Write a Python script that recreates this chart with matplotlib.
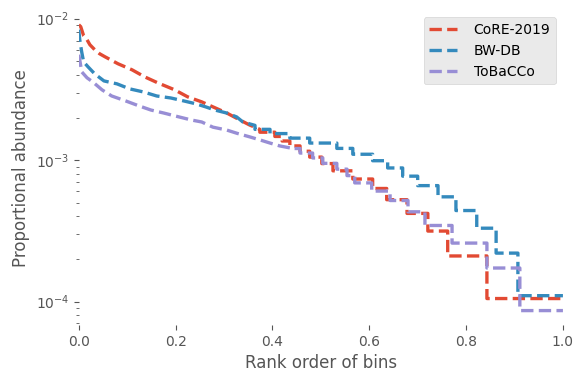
import matplotlib
matplotlib.use("Agg")
import matplotlib.pyplot as plt

# Rank-abundance curves. The head of each curve (many bins with large counts)
# is a dense run of points; the tail is a staircase given as the rank fraction
# where each level starts and the proportional abundance of that level.
core_head_x = [0.0, 0.004, 0.010, 0.017, 0.023, 0.033, 0.043, 0.054, 0.081,
               0.110, 0.136, 0.163, 0.198, 0.225, 0.254, 0.277, 0.306, 0.333,
               0.353, 0.374]
core_head_y = [9.06e-3, 8.78e-3, 7.58e-3, 7.10e-3, 6.54e-3, 6.03e-3, 5.65e-3,
               5.38e-3, 4.80e-3, 4.35e-3, 3.88e-3, 3.52e-3, 3.14e-3, 2.80e-3,
               2.58e-3, 2.38e-3, 2.15e-3, 1.92e-3, 1.77e-3, 1.65e-3]
core_step_x = [0.374, 0.405, 0.420, 0.436, 0.457, 0.477, 0.502, 0.525, 0.566,
               0.607, 0.636, 0.678, 0.721, 0.762, 0.843]
core_step_y = [1.575e-3, 1.47e-3, 1.365e-3, 1.26e-3, 1.155e-3, 1.05e-3, 9.45e-4,
               8.4e-4, 7.35e-4, 6.3e-4, 5.25e-4, 4.2e-4, 3.15e-4, 2.1e-4, 1.05e-4]

bwdb_head_x = [0.0, 0.002, 0.006, 0.010, 0.019, 0.033, 0.052, 0.079, 0.105,
               0.134, 0.161, 0.190, 0.217, 0.242, 0.262, 0.281, 0.306, 0.326,
               0.339, 0.364]
bwdb_head_y = [8.36e-3, 7.10e-3, 5.83e-3, 4.95e-3, 4.57e-3, 4.07e-3, 3.63e-3,
               3.46e-3, 3.19e-3, 3.03e-3, 2.84e-3, 2.75e-3, 2.62e-3, 2.50e-3,
               2.38e-3, 2.26e-3, 2.15e-3, 2.02e-3, 1.86e-3, 1.76e-3]
bwdb_step_x = [0.364, 0.395, 0.436, 0.477, 0.533, 0.566, 0.607, 0.638, 0.669,
               0.700, 0.742, 0.779, 0.822, 0.862, 0.907]
bwdb_step_y = [1.65e-3, 1.54e-3, 1.43e-3, 1.32e-3, 1.21e-3, 1.10e-3, 9.9e-4,
               8.8e-4, 7.7e-4, 6.6e-4, 5.5e-4, 4.4e-4, 3.3e-4, 2.2e-4, 1.1e-4]

tobacco_head_x = [0.0, 0.002, 0.006, 0.017, 0.029, 0.048, 0.068, 0.097, 0.124,
                  0.149, 0.176, 0.207, 0.233, 0.254, 0.277, 0.306, 0.326, 0.353,
                  0.374, 0.395, 0.415, 0.436]
tobacco_head_y = [5.56e-3, 5.12e-3, 4.21e-3, 3.82e-3, 3.57e-3, 3.14e-3, 2.84e-3,
                  2.62e-3, 2.42e-3, 2.26e-3, 2.15e-3, 2.02e-3, 1.92e-3, 1.86e-3,
                  1.71e-3, 1.63e-3, 1.55e-3, 1.46e-3, 1.39e-3, 1.32e-3, 1.26e-3,
                  1.22e-3]
tobacco_step_x = [0.436, 0.457, 0.483, 0.504, 0.533, 0.554, 0.570, 0.605, 0.643,
                  0.680, 0.715, 0.771, 0.843, 0.911]
tobacco_step_y = [1.208e-3, 1.122e-3, 1.036e-3, 9.49e-4, 8.63e-4, 7.77e-4,
                  6.9e-4, 6.04e-4, 5.18e-4, 4.31e-4, 3.45e-4, 2.59e-4, 1.726e-4,
                  8.63e-5]

labels = ["CoRE-2019", "BW-DB", "ToBaCCo"]
colors = ["#E24A33", "#348ABD", "#988ED5"]


def curve(head_x, head_y, step_x, step_y):
    """Join the dense head with the staircase tail into one path."""
    xs, ys = list(head_x), list(head_y)
    for i, (sx, sy) in enumerate(zip(step_x, step_y)):
        xs.append(sx)
        ys.append(sy)
        end = step_x[i + 1] if i + 1 < len(step_x) else 1.0
        xs.append(end)
        ys.append(sy)
    return xs, ys


series = [
    curve(core_head_x, core_head_y, core_step_x, core_step_y),
    curve(bwdb_head_x, bwdb_head_y, bwdb_step_x, bwdb_step_y),
    curve(tobacco_head_x, tobacco_head_y, tobacco_step_x, tobacco_step_y),
]

plt.style.use("ggplot")
fig, ax = plt.subplots(figsize=(5.75, 3.73), dpi=100)
fig.subplots_adjust(left=0.137, right=0.979, top=0.972, bottom=0.129)
ax.set_facecolor("white")
ax.grid(False)
for s in ax.spines.values():
    s.set_visible(False)

for (xs, ys), lab, col in zip(series, labels, colors):
    ax.plot(xs, ys, linestyle="--", linewidth=2.4, color=col, label=lab)

ax.set_yscale("log")
ax.set_xlim(0, 1)
ax.set_xlabel("Rank order of bins", color="#555555")
ax.set_ylabel("Proportional abundance", color="#555555")
ax.tick_params(which="both", colors="#555555")

leg = ax.legend(loc="upper right", facecolor="#E5E5E5", edgecolor="#CCCCCC",
                fontsize=10, handletextpad=1.2)
for t in leg.get_texts():
    t.set_color("black")

fig.savefig("out.png", dpi=100)
